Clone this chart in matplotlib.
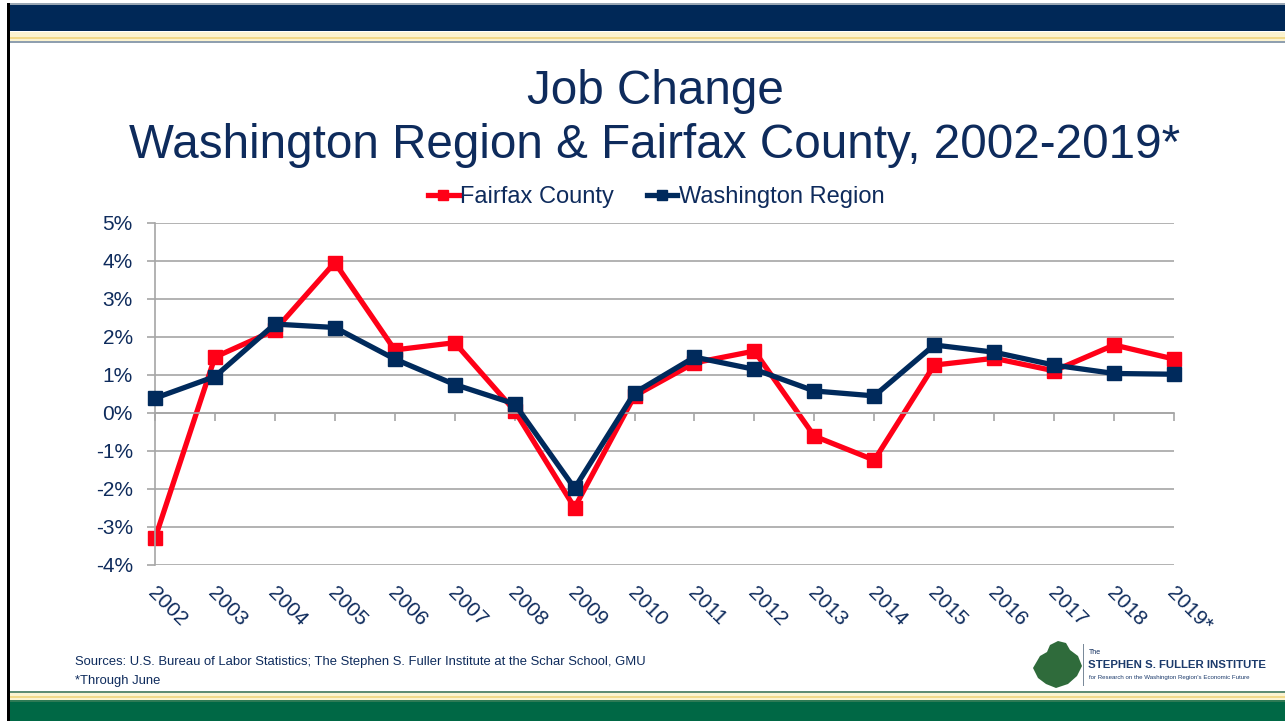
import matplotlib
matplotlib.use('Agg')
import matplotlib.pyplot as plt
from matplotlib.patches import Rectangle, Polygon
from matplotlib.lines import Line2D
import matplotlib.transforms as mtransforms

plt.rcParams['font.family'] = ['Liberation Sans', 'DejaVu Sans']

# data (percent job change)
years = ['2002', '2003', '2004', '2005', '2006', '2007', '2008', '2009', '2010',
         '2011', '2012', '2013', '2014', '2015', '2016', '2017', '2018', '2019*']
fairfax = [-3.30, 1.47, 2.18, 3.96, 1.66, 1.85, 0.06, -2.49, 0.45,
           1.32, 1.63, -0.61, -1.24, 1.26, 1.44, 1.11, 1.79, 1.42]
washington = [0.39, 0.96, 2.34, 2.25, 1.42, 0.75, 0.24, -1.98, 0.53,
              1.47, 1.15, 0.58, 0.45, 1.79, 1.60, 1.26, 1.04, 1.02]
yticks = [-4, -3, -2, -1, 0, 1, 2, 3, 4, 5]

RED = '#FF0017'
NAVY = '#002A5C'
TXT = '#0E2B5C'
GRID = '#A6A6A6'

W, H = 1285, 721
fig = plt.figure(figsize=(W / 100, H / 100), dpi=100)


def px_rect(x0, y0, x1, y1, color):
    # rectangle in pixel coords, y measured from top
    fig.patches.append(Rectangle((x0 / W, 1 - y1 / H), (x1 - x0) / W, (y1 - y0) / H,
                                 transform=fig.transFigure, color=color, lw=0, zorder=0))


# slide frame: top navy band, stripes, bottom green band
px_rect(8, 3, W, 5, '#9AA7B4')
px_rect(8, 5, W, 31, '#002857')
px_rect(8, 32, W, 37, '#FBF3D0')
px_rect(8, 37, W, 39, '#F1D98A')
px_rect(8, 39, W, 41, '#FBF3D0')
px_rect(8, 41, W, 43, '#8F9FAF')
px_rect(7, 3, 10, H, '#000000')
px_rect(10, 691, W, 693, '#5E8C74')
px_rect(10, 693, W, 696, '#FBF3D0')
px_rect(10, 696, W, 698, '#F1D98A')
px_rect(10, 698, W, 700, '#FBF3D0')
px_rect(10, 700, W, 702, '#2E7A55')
px_rect(10, 702, W, H, '#006845')

# title
fig.text(655 / W, 1 - 91 / H, 'Job Change', ha='center', va='center', fontsize=34.3, color=TXT)
fig.text(655 / W, 1 - 145 / H, 'Washington Region & Fairfax County, 2002-2019*',
         ha='center', va='center', fontsize=34.3, color=TXT)

# plot area
ax = fig.add_axes([155 / W, 1 - 565 / H, (1174 - 155) / W, (565 - 223) / H])
x = list(range(len(years)))
ax.plot(x, washington, color=NAVY, lw=3.8, marker='s', ms=9.5, zorder=3,
        clip_on=False, label='Washington Region')
ax.plot(x, fairfax, color=RED, lw=3.8, marker='s', ms=9.5, zorder=2,
        clip_on=False, label='Fairfax County')

ax.set_xlim(0, len(years) - 1)
ax.set_ylim(-4, 5)
ax.set_yticks(yticks)
ax.set_yticklabels([f'{v}%' for v in yticks], fontsize=15, color=TXT)
ax.grid(axis='y', color=GRID, lw=1.2)
ax.set_axisbelow(True)
for s in ['top', 'right']:
    ax.spines[s].set_visible(False)
ax.spines['left'].set_color(GRID)
ax.spines['left'].set_linewidth(1.2)
ax.spines['bottom'].set_position(('data', 0))
ax.spines['bottom'].set_color(GRID)
ax.spines['bottom'].set_linewidth(1.2)
ax.tick_params(axis='y', length=6, width=1.2, color=GRID, pad=10)
ax.set_xticks(x)
ax.tick_params(axis='x', length=6, width=1.2, color=GRID, labelbottom=False)

# rotated year labels under the plot
off = mtransforms.ScaledTranslation(3 / 100, 0, fig.dpi_scale_trans)
trans = mtransforms.blended_transform_factory(ax.transData, ax.transAxes) + off
for i, lab in enumerate(years):
    ax.text(i, -0.055, lab, transform=trans, rotation=-45, rotation_mode='anchor',
            ha='left', va='top', fontsize=15, color=TXT, clip_on=False)

# legend
handles = [Line2D([], [], color=RED, lw=3.8, marker='s', ms=7),
           Line2D([], [], color=NAVY, lw=3.8, marker='s', ms=7)]
fig.legend(handles, ['Fairfax County', 'Washington Region'], loc='center',
           bbox_to_anchor=(656 / W, 1 - 197 / H), ncol=2, frameon=False,
           fontsize=17, labelcolor=TXT, handlelength=1.3, handletextpad=0.05,
           columnspacing=1.4)

# footnotes
fig.text(75 / W, 1 - 662 / H, 'Sources: U.S. Bureau of Labor Statistics; The Stephen S. Fuller Institute at the Schar School, GMU',
         ha='left', va='center', fontsize=9.4, color=TXT)
fig.text(75 / W, 1 - 681 / H, '*Through June', ha='left', va='center', fontsize=9.4,
         color=TXT)

# logo (approximate)
blob = [(1033, 668), (1040, 656), (1047, 652), (1050, 645), (1058, 641), (1066, 643),
        (1070, 650), (1078, 656), (1082, 666), (1077, 676), (1068, 684), (1056, 688),
        (1046, 684), (1038, 678)]
fig.patches.append(Polygon([(a / W, 1 - b / H) for a, b in blob], closed=True,
                           transform=fig.transFigure, color='#2F6B3B', lw=0))
fig.patches.append(Rectangle((1083 / W, 1 - 686 / H), 1.2 / W, 42 / H,
                             transform=fig.transFigure, color='#7A8A9A', lw=0))
fig.text(1089 / W, 1 - 653 / H, 'The', ha='left', va='center', fontsize=5,
         color=TXT)
fig.text(1088 / W, 1 - 665 / H, 'STEPHEN S. FULLER INSTITUTE', ha='left', va='center',
         fontsize=8.2, fontweight='bold', color='#1B3A6B')
fig.text(1089 / W, 1 - 677 / H, "for Research on the Washington Region's Economic Future",
         ha='left', va='center', fontsize=4.4, color='#1B3A6B')

fig.savefig('out.png', dpi=100)
